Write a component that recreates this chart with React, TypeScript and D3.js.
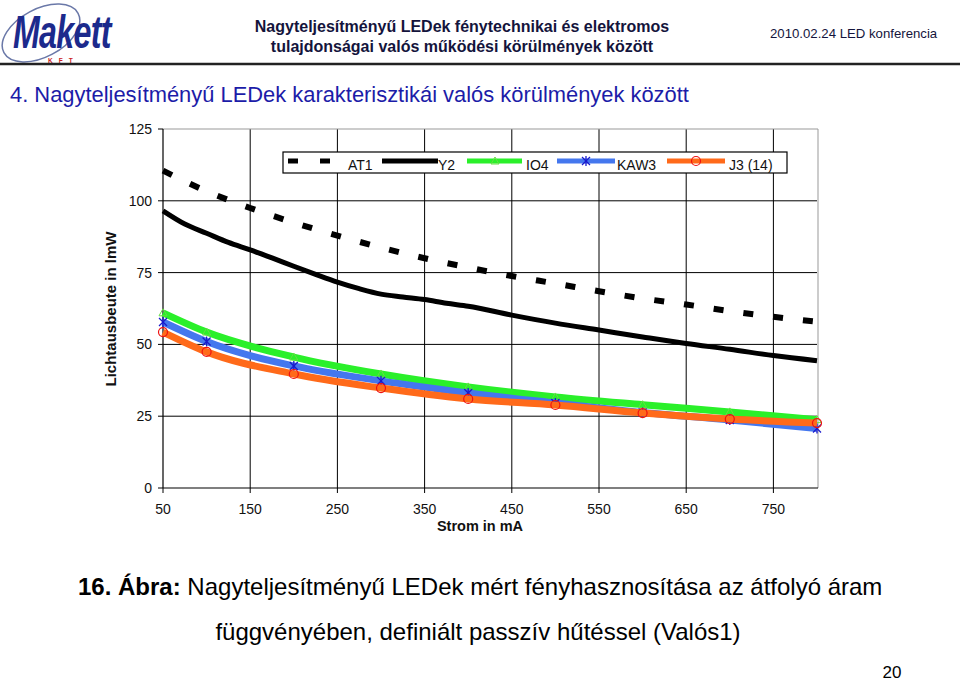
import React from "react";
import * as d3 from "d3";

const markerCurrents = [50, 100, 200, 300, 400, 500, 600, 700, 800];
const io4Values = [61, 54.3, 45.6, 39.7, 35.2, 31.7, 29.0, 26.5, 23.8];
const kaw3Values = [57.8, 51, 42.5, 37.3, 33.1, 29.6, 26.3, 23.7, 20.7];
const j3Values = [54.3, 47.4, 39.7, 34.8, 31, 28.9, 26.1, 24, 22.6];

const y2Currents = [50, 75, 100, 125, 150, 175, 200, 225, 250, 275, 300, 325, 350, 375, 400, 450, 500, 550, 600, 650, 700, 750, 800];
const y2Values = [96.5, 91.9, 88.7, 85.5, 82.9, 80.1, 77.2, 74.4, 71.7, 69.4, 67.5, 66.5, 65.6, 64.3, 63.3, 60.2, 57.4, 55, 52.6, 50.3, 48.3, 46.1, 44.3];

const at1Currents = [50, 100, 150, 200, 250, 300, 350, 400, 450, 500, 550, 600, 650, 700, 750, 800];
const at1Values = [110.5, 103.3, 97.5, 92.4, 87.9, 83.7, 80, 76.8, 73.8, 71.2, 68.5, 66, 63.9, 61.6, 59.6, 57.9];

const xTicks = [50, 150, 250, 350, 450, 550, 650, 750];
const yTicks = [0, 25, 50, 75, 100, 125];

const FONT = "'Liberation Sans', Arial, sans-serif";

export default function App() {
  const x = d3.scaleLinear().domain([50, 800]).range([163, 817]);
  const y = d3.scaleLinear().domain([0, 125]).range([488, 129]);
  const line = d3
    .line<[number, number]>()
    .x((d) => x(d[0]))
    .y((d) => y(d[1]))
    .curve(d3.curveMonotoneX);

  const zip = (a: number[], b: number[]) => a.map((v, i) => [v, b[i]] as [number, number]);

  const io4 = zip(markerCurrents, io4Values);
  const kaw3 = zip(markerCurrents, kaw3Values);
  const j3 = zip(markerCurrents, j3Values);
  const y2 = zip(y2Currents, y2Values);
  const at1 = zip(at1Currents, at1Values);

  const green = "#2af02a";
  const blue = "#4477ee";
  const orange = "#ff6a1a";

  const tri = (cx: number, cy: number, key: string) => (
    <path key={key} d={`M${cx},${cy - 4} L${cx + 4},${cy + 3} L${cx - 4},${cy + 3} Z`} fill="none" stroke="#66dd44" strokeWidth={1} />
  );
  const star = (cx: number, cy: number, key: string) => (
    <g key={key} stroke="#1a1acc" strokeWidth={1.3}>
      <line x1={cx - 4} y1={cy - 4} x2={cx + 4} y2={cy + 4} />
      <line x1={cx - 4} y1={cy + 4} x2={cx + 4} y2={cy - 4} />
      <line x1={cx} y1={cy - 5} x2={cx} y2={cy + 5} />
    </g>
  );
  const circ = (cx: number, cy: number, key: string) => (
    <circle key={key} cx={cx} cy={cy} r={4.5} fill="none" stroke="#ee1111" strokeWidth={1.2} />
  );

  return (
    <svg
      width={960}
      height={681}
      style={{ position: "absolute", left: 0, top: 0, background: "#fff" }}
      fontFamily={FONT}
    >
      <rect x={0} y={0} width={960} height={681} fill="#fff" />
      {/* Logo */}
      <g>
        <ellipse cx={41} cy={33} rx={42} ry={24} transform="rotate(-28 41 33)" fill="none" stroke="#6a78a8" strokeWidth={1.5} />
        <text transform="translate(13,48) scale(0.7,1)" fontSize={46} fontWeight="bold" fontStyle="italic" fill="#1c2a8c" letterSpacing={-1}>
          Makett
        </text>
        <text x={48} y={63} fontSize={6.5} fontWeight="bold" fill="#cc2222" letterSpacing={6}>
          KFT
        </text>
      </g>
      {/* Header */}
      <text x={462} y={32} textAnchor="middle" fontSize={16} fontWeight="bold" fill="#14143c">
        Nagyteljesítményű LEDek fénytechnikai és elektromos
      </text>
      <text x={462} y={52} textAnchor="middle" fontSize={16} fontWeight="bold" fill="#14143c">
        tulajdonságai valós működési körülmények között
      </text>
      <text x={770} y={38} fontSize={13.2} fill="#14143c">
        2010.02.24 LED konferencia
      </text>
      <line x1={0} y1={64} x2={960} y2={64} stroke="#222" strokeWidth={2.5} />
      <text x={10} y={102} fontSize={21.9} fill="#1c1ca8">
        4. Nagyteljesítményű LEDek karakterisztikái valós körülmények között
      </text>

      {/* Grid */}
      {xTicks.slice(1).map((t) => (
        <line key={"gx" + t} x1={x(t)} x2={x(t)} y1={y(125)} y2={y(0)} stroke="#000" strokeWidth={1} />
      ))}
      {yTicks.slice(1, -1).map((t) => (
        <line key={"gy" + t} x1={x(50)} x2={x(800)} y1={y(t)} y2={y(t)} stroke="#000" strokeWidth={1} />
      ))}
      <line x1={x(50)} x2={x(800) + 1} y1={y(125)} y2={y(125)} stroke="#999" strokeWidth={1} />
      <line x1={x(800) + 1} x2={x(800) + 1} y1={y(125)} y2={y(0)} stroke="#999" strokeWidth={1} />
      {/* Axes */}
      <line x1={x(50)} x2={x(50)} y1={y(125)} y2={y(0)} stroke="#000" strokeWidth={1.2} />
      <line x1={x(50)} x2={x(800) + 1} y1={y(0)} y2={y(0)} stroke="#000" strokeWidth={1.2} />
      {yTicks.map((t) => (
        <g key={"yt" + t}>
          <line x1={x(50) - 5} x2={x(50)} y1={y(t)} y2={y(t)} stroke="#000" />
          <text x={152} y={y(t) + 5} textAnchor="end" fontSize={14} fill="#111">
            {t}
          </text>
        </g>
      ))}
      {xTicks.map((t) => (
        <g key={"xt" + t}>
          <line x1={x(t)} x2={x(t)} y1={y(0)} y2={y(0) + 5} stroke="#000" />
          <text x={x(t)} y={514} textAnchor="middle" fontSize={14} fill="#111">
            {t}
          </text>
        </g>
      ))}
      <text x={480} y={531} textAnchor="middle" fontSize={14.5} fontWeight="bold" fill="#111">
        Strom in mA
      </text>
      <text
        transform={`translate(116,309) rotate(-90)`}
        textAnchor="middle"
        fontSize={15}
        fontWeight="bold"
        fill="#111"
      >
        Lichtausbeute in lmW
      </text>

      {/* Series */}
      <path d={line(at1) || ""} fill="none" stroke="#000" strokeWidth={6} strokeDasharray="10,20" />
      <path d={line(y2) || ""} fill="none" stroke="#000" strokeWidth={5} />
      <path d={line(io4) || ""} fill="none" stroke={green} strokeWidth={7} />
      {io4.map((d, i) => tri(x(d[0]), y(d[1]), "io" + i))}
      <path d={line(kaw3) || ""} fill="none" stroke={blue} strokeWidth={7} />
      {kaw3.map((d, i) => star(x(d[0]), y(d[1]), "kw" + i))}
      <path d={line(j3) || ""} fill="none" stroke={orange} strokeWidth={7} />
      {j3.map((d, i) => circ(x(d[0]), y(d[1]), "j3" + i))}

      {/* Legend */}
      <g>
        <rect x={283} y={152} width={504} height={21} fill="#fff" stroke="#000" strokeWidth={1.2} />
        <line x1={288} x2={298} y1={161} y2={161} stroke="#000" strokeWidth={5} />
        <line x1={320} x2={330} y1={161} y2={161} stroke="#000" strokeWidth={5} />
        <text x={348} y={170} fontSize={14} fill="#111">AT1</text>
        <line x1={382} x2={438} y1={161} y2={161} stroke="#000" strokeWidth={5} />
        <text x={438} y={170} fontSize={14} fill="#111">Y2</text>
        <line x1={467} x2={522} y1={161} y2={161} stroke={green} strokeWidth={5} />
        {tri(495, 161, "lt")}
        <text x={526} y={170} fontSize={14} fill="#111">IO4</text>
        <line x1={557} x2={615} y1={161} y2={161} stroke={blue} strokeWidth={5} />
        {star(586, 161, "ls")}
        <text x={617} y={170} fontSize={14} fill="#111">KAW3</text>
        <line x1={667} x2={725} y1={161} y2={161} stroke={orange} strokeWidth={5} />
        {circ(696, 161, "lc")}
        <text x={729} y={170} fontSize={14} fill="#111">J3 (14)</text>
      </g>

      {/* Caption */}
      <text x={78} y={595} fontSize={24} fill="#000">
        <tspan fontWeight="bold">16. Ábra:</tspan>
        <tspan> Nagyteljesítményű LEDek mért fényhasznosítása az átfolyó áram</tspan>
      </text>
      <text x={478} y={640} textAnchor="middle" fontSize={24} fill="#000">
        függvényében, definiált passzív hűtéssel (Valós1)
      </text>
      <text x={892} y={678} textAnchor="middle" fontSize={17} fill="#000">
        20
      </text>
    </svg>
  );
}
